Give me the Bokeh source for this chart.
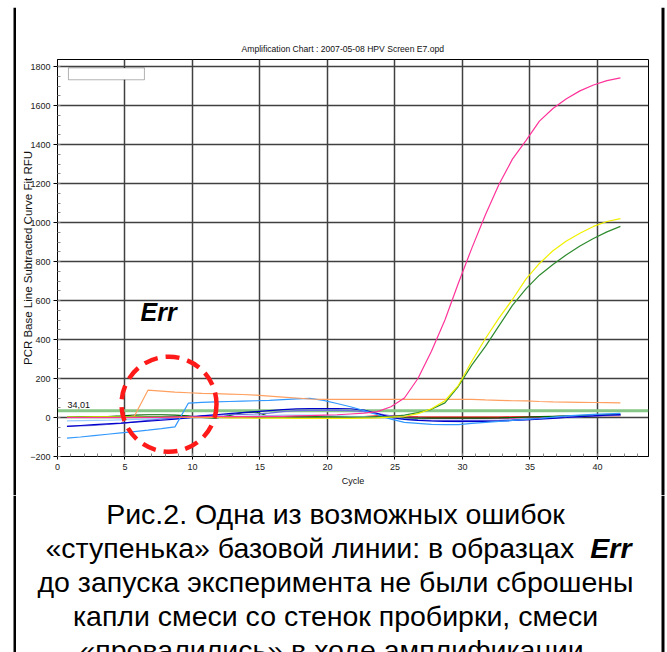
from bokeh.plotting import figure
from bokeh.layouts import column, row
from bokeh.models import Range1d, FixedTicker, Label, BoxAnnotation, Span, Title
from bokeh.embed import file_html
from bokeh.resources import INLINE

# ---------------- data ----------------
cycles = [0.7, 1.7, 2.7, 3.7, 4.7, 5.7, 6.7, 7.7, 8.7, 9.7,
          10.7, 11.7, 12.7, 13.7, 14.7, 15.7, 16.7, 17.7, 18.7, 19.7,
          20.7, 21.7, 22.7, 23.7, 24.7, 25.7, 26.7, 27.7, 28.7, 29.7,
          30.7, 31.7, 32.7, 33.7, 34.7, 35.7, 36.7, 37.7, 38.7, 39.7,
          40.7, 41.7]

pink = [0, 0, 0, 0, 0, 0, 0, 0, 2, 3,
        3, 4, 4, 5, 5, 6, 6, 8, 10, 12,
        14, 18, 22, 30, 55, 100, 200, 340, 500, 690,
        870, 1040, 1195, 1325, 1420, 1520, 1585, 1635, 1675, 1705,
        1728, 1742]
yellow = [2, 2, 3, 3, 2, 2, 1, 1, 0, 0,
          0, 0, -2, -2, -3, -3, -3, -4, -4, -4,
          -4, -4, -3, -2, 2, 5, 20, 45, 86, 165,
          290, 405, 510, 605, 710, 790, 855, 905, 945, 980,
          1005, 1020]
green = [0, 0, 1, 2, 3, 3, 3, 3, 2, 2,
         2, 2, 2, 2, 2, 2, 2, 2, 2, 2,
         2, 2, 2, 3, 5, 12, 25, 42, 75, 160,
         270, 365, 470, 575, 660, 730, 785, 835, 880, 918,
         952, 980]
orange = [0, 0, 0, 0, 0, 8, 140, 135, 130, 127,
          124, 122, 120, 118, 115, 110, 105, 100, 95, 93,
          93, 93, 93, 93, 93, 93, 93, 93, 93, 93,
          93, 90, 88, 86, 85, 82, 80, 79, 78, 77,
          76, 75]
blue_step = [-106, -100, -93, -86, -79, -72, -65, -57, -48, 74,
             78, 80, 82, 84, 86, 88, 92, 96, 98, 88,
             72, 55, 35, 15, -8, -25, -30, -35, -37, -37,
             -30, -25, -20, -15, -10, -5, 2, 8, 12, 16,
             19, 21]
dark_blue = [-45, -41, -37, -33, -29, -24, -19, -14, -8, -2,
             8, 14, 20, 25, 30, 35, 40, 44, 46, 46,
             46, 45, 38, 20, 0, -10, -15, -18, -20, -20,
             -20, -20, -18, -15, -12, -8, -4, 0, 5, 8,
             12, 15]
slate_blue = [-45, -43, -40, -36, -30, -22, -15, -8, -2, 5,
              10, 12, 14, 16, 18, 22, 30, 35, 37, 37,
              37, 35, 30, 20, 8, -5, -12, -15, -15, -15,
              -15, -15, -15, -12, -8, -5, -2, 2, 5, 8,
              10, 12]
sky_blue = [-17, -16, -15, -14, -12, -10, -8, -6, -4, -2,
            0, 2, 4, 6, 8, 10, 12, 12, 12, 10,
            8, 6, 4, 0, -5, -10, -14, -18, -20, -22,
            -22, -20, -18, -15, -10, -6, -2, 2, 5, 8,
            10, 12]
red = [0, 0, 0, 0, 0, 1, 1, 2, 2, 3,
       3, 3, 3, 3, 3, 3, 3, 3, 3, 3,
       3, 3, 5, 8, 8, 5, 3, 2, 2, 2,
       2, 2, 2, 3, 3, 4, 5, 6, 7, 8,
       9, 10]
dark_green = [2, 3, 4, 5, 8, 12, 14, 14, 12, 8,
              0, -3, 10, 25, 28, 5, 5, 5, 5, 5,
              5, 5, 5, 3, 0, -2, -3, -3, -3, -3,
              -3, -3, -2, 0, 2, 4, 6, 8, 10, 12,
              14, 16]
purple = [0, 0, 0, 0, 0, 3, 5, 5, 5, 5,
          5, 5, 5, 5, 5, 0, 0, 0, 0, 0,
          0, 0, 0, 5, 10, 5, 0, -5, -5, -5,
          -5, -5, -5, -3, 0, 2, 4, 6, 8, 10,
          12, 14]

threshold = 34.01
x_ticks = [0, 5, 10, 15, 20, 25, 30, 35, 40]
y_ticks = [-200, 0, 200, 400, 600, 800, 1000, 1200, 1400, 1600, 1800]

chart_title = "Amplification Chart : 2007-05-08 HPV Screen E7.opd"
x_label = "Cycle"
y_label = "PCR Base Line Subtracted Curve Fit RFU"
caption_lines = [
    "Рис.2. Одна из возможных ошибок",
    "«ступенька» базовой линии: в образцах",
    "до запуска эксперимента не были сброшены",
    "капли смеси со стенок пробирки, смеси",
    "«провалились» в ходе амплификации.",
]
err_word = "Err"

FONT = "Liberation Sans"


def no_align(fig):
    try:
        fig.frame_align = False
    except Exception:
        pass
    return fig


def bare(w, h, xr, yr):
    """A figure without axes or title whose whole canvas is its frame."""
    s = figure(width=w, height=h, output_backend="svg", toolbar_location=None,
               title_location=None,
               x_range=xr, y_range=yr, x_axis_location=None, y_axis_location=None,
               min_border_left=0, min_border_right=0, min_border_top=0, min_border_bottom=0,
               background_fill_color="white", border_fill_color="white")
    try:
        s.title = None
    except Exception:
        pass
    s.grid.visible = False
    s.outline_line_color = None
    return no_align(s)


def strip(w, h, x0, x1, y0, y1):
    s = bare(w, h, Range1d(0, w), Range1d(h, 0))
    s.add_layout(BoxAnnotation(left=x0, right=x1, top=y0, bottom=y1,
                               fill_color="black", fill_alpha=1.0, line_color=None))
    return s


# ---------------- main chart ----------------
p = figure(width=644, height=488, output_backend="svg", toolbar_location=None,
           x_range=Range1d(0, 43.78), y_range=Range1d(-200, 1836),
           min_border_left=41, min_border_right=12, min_border_top=52, min_border_bottom=39,
           background_fill_color="white", border_fill_color="white")
no_align(p)
p.title = Title(text=chart_title, align="left", offset=184, standoff=12,
                text_font=FONT, text_font_size="8.6px", text_font_style="normal",
                text_color="#111111")
p.outline_line_color = "black"
p.outline_line_width = 1

p.xaxis.ticker = FixedTicker(ticks=x_ticks, minor_ticks=list(range(0, 44)))
p.yaxis.ticker = FixedTicker(ticks=y_ticks, minor_ticks=list(range(-200, 1837, 50)))

for ax in (p.xaxis[0], p.yaxis[0]):
    ax.axis_line_color = "black"
    ax.major_tick_line_color = "black"
    ax.minor_tick_line_color = "#888888"
    ax.major_tick_in = 0
    ax.minor_tick_out = 0
    ax.minor_tick_in = 3
    ax.major_label_text_font = FONT
    ax.major_label_text_font_size = "9px"
    ax.major_label_text_color = "#222222"
    ax.axis_label_text_font = FONT
    ax.axis_label_text_font_style = "normal"
    ax.axis_label_text_color = "#111111"

p.xaxis.major_tick_out = 3
p.xaxis.major_label_standoff = 4
p.xaxis.axis_label = x_label
p.xaxis.axis_label_text_font_size = "9px"
p.xaxis.axis_label_standoff = 3

p.yaxis.major_tick_out = 4
p.yaxis.major_label_standoff = 3
p.yaxis.axis_label = y_label
p.yaxis.axis_label_text_font_size = "11.5px"
p.yaxis.axis_label_standoff = -7

p.xgrid.grid_line_color = "#404040"
p.xgrid.grid_line_width = 1.5
p.ygrid.grid_line_color = "#404040"
p.ygrid.grid_line_width = 1.5

p.add_layout(Span(location=threshold, dimension="width", line_color="#86c686",
                  line_width=3, level="underlay"))

series = [
    (red, "#ff0000"), (purple, "#bb3399"), (dark_green, "#006400"),
    (sky_blue, "#99ccff"), (slate_blue, "#7070e0"), (dark_blue, "#0000cc"),
    (blue_step, "#3399ff"), (orange, "#ffa060"),
    (green, "#2e8b2e"), (yellow, "#f0f000"), (pink, "#ff3399"),
]
for ys, c in series:
    p.line(cycles, ys, line_color=c, line_width=1.2)

# empty legend box
p.add_layout(BoxAnnotation(left=0.81, right=6.44, bottom=1732, top=1793,
                           fill_color="white", fill_alpha=1.0,
                           line_color="black", line_width=1, level="overlay"))

# threshold label
p.add_layout(Label(x=0.74, y=51, text=f"{threshold:.2f}".replace(".", ","),
                   text_font=FONT, text_font_size="9px", text_color="#111111"))

# Err annotation and dashed circle
p.add_layout(Label(x=6.15, y=470, text=err_word, text_font=FONT,
                   text_font_size="25px", text_font_style="bold italic",
                   text_color="black"))
p.ellipse(x=[8.26], y=[68], width=95, height=95, width_units="screen",
          height_units="screen", fill_color=None, line_color="#ff1a1a",
          line_width=4.5, line_dash="14 8")

# ---------------- caption (page pixel coordinates) ----------------
cap = bare(644, 157, Range1d(16, 660), Range1d(652, 495))

baselines = [513, 547, 581, 615, 649]
cap_size = "28.5px"
for i, line in enumerate(caption_lines):
    if i == 1:
        cap.add_layout(Label(x=45, y=baselines[i], text=line, text_font=FONT,
                             text_font_size=cap_size, text_align="left",
                             text_baseline="alphabetic", text_color="black"))
        cap.add_layout(Label(x=631, y=baselines[i], text=err_word, text_font=FONT,
                             text_font_size=cap_size, text_font_style="bold italic",
                             text_align="right", text_baseline="alphabetic",
                             text_color="black"))
    else:
        cap.add_layout(Label(x=335, y=baselines[i], text=line, text_font=FONT,
                             text_font_size=cap_size, text_align="center",
                             text_baseline="alphabetic", text_color="black"))

# ---------------- outer frame strips ----------------
top_strip = strip(667, 7, 13, 664, 4, 7)

row1 = row(strip(16, 488, 13, 16, 0, 488), p, strip(7, 488, 1, 4, 0, 488), spacing=0)
row2 = row(strip(16, 157, 13, 16, 0, 157), cap, strip(7, 157, 1, 4, 0, 157), spacing=0)

layout = column(top_strip, row1, row2, spacing=0)

open("out.html", "w").write(file_html(layout, INLINE))
